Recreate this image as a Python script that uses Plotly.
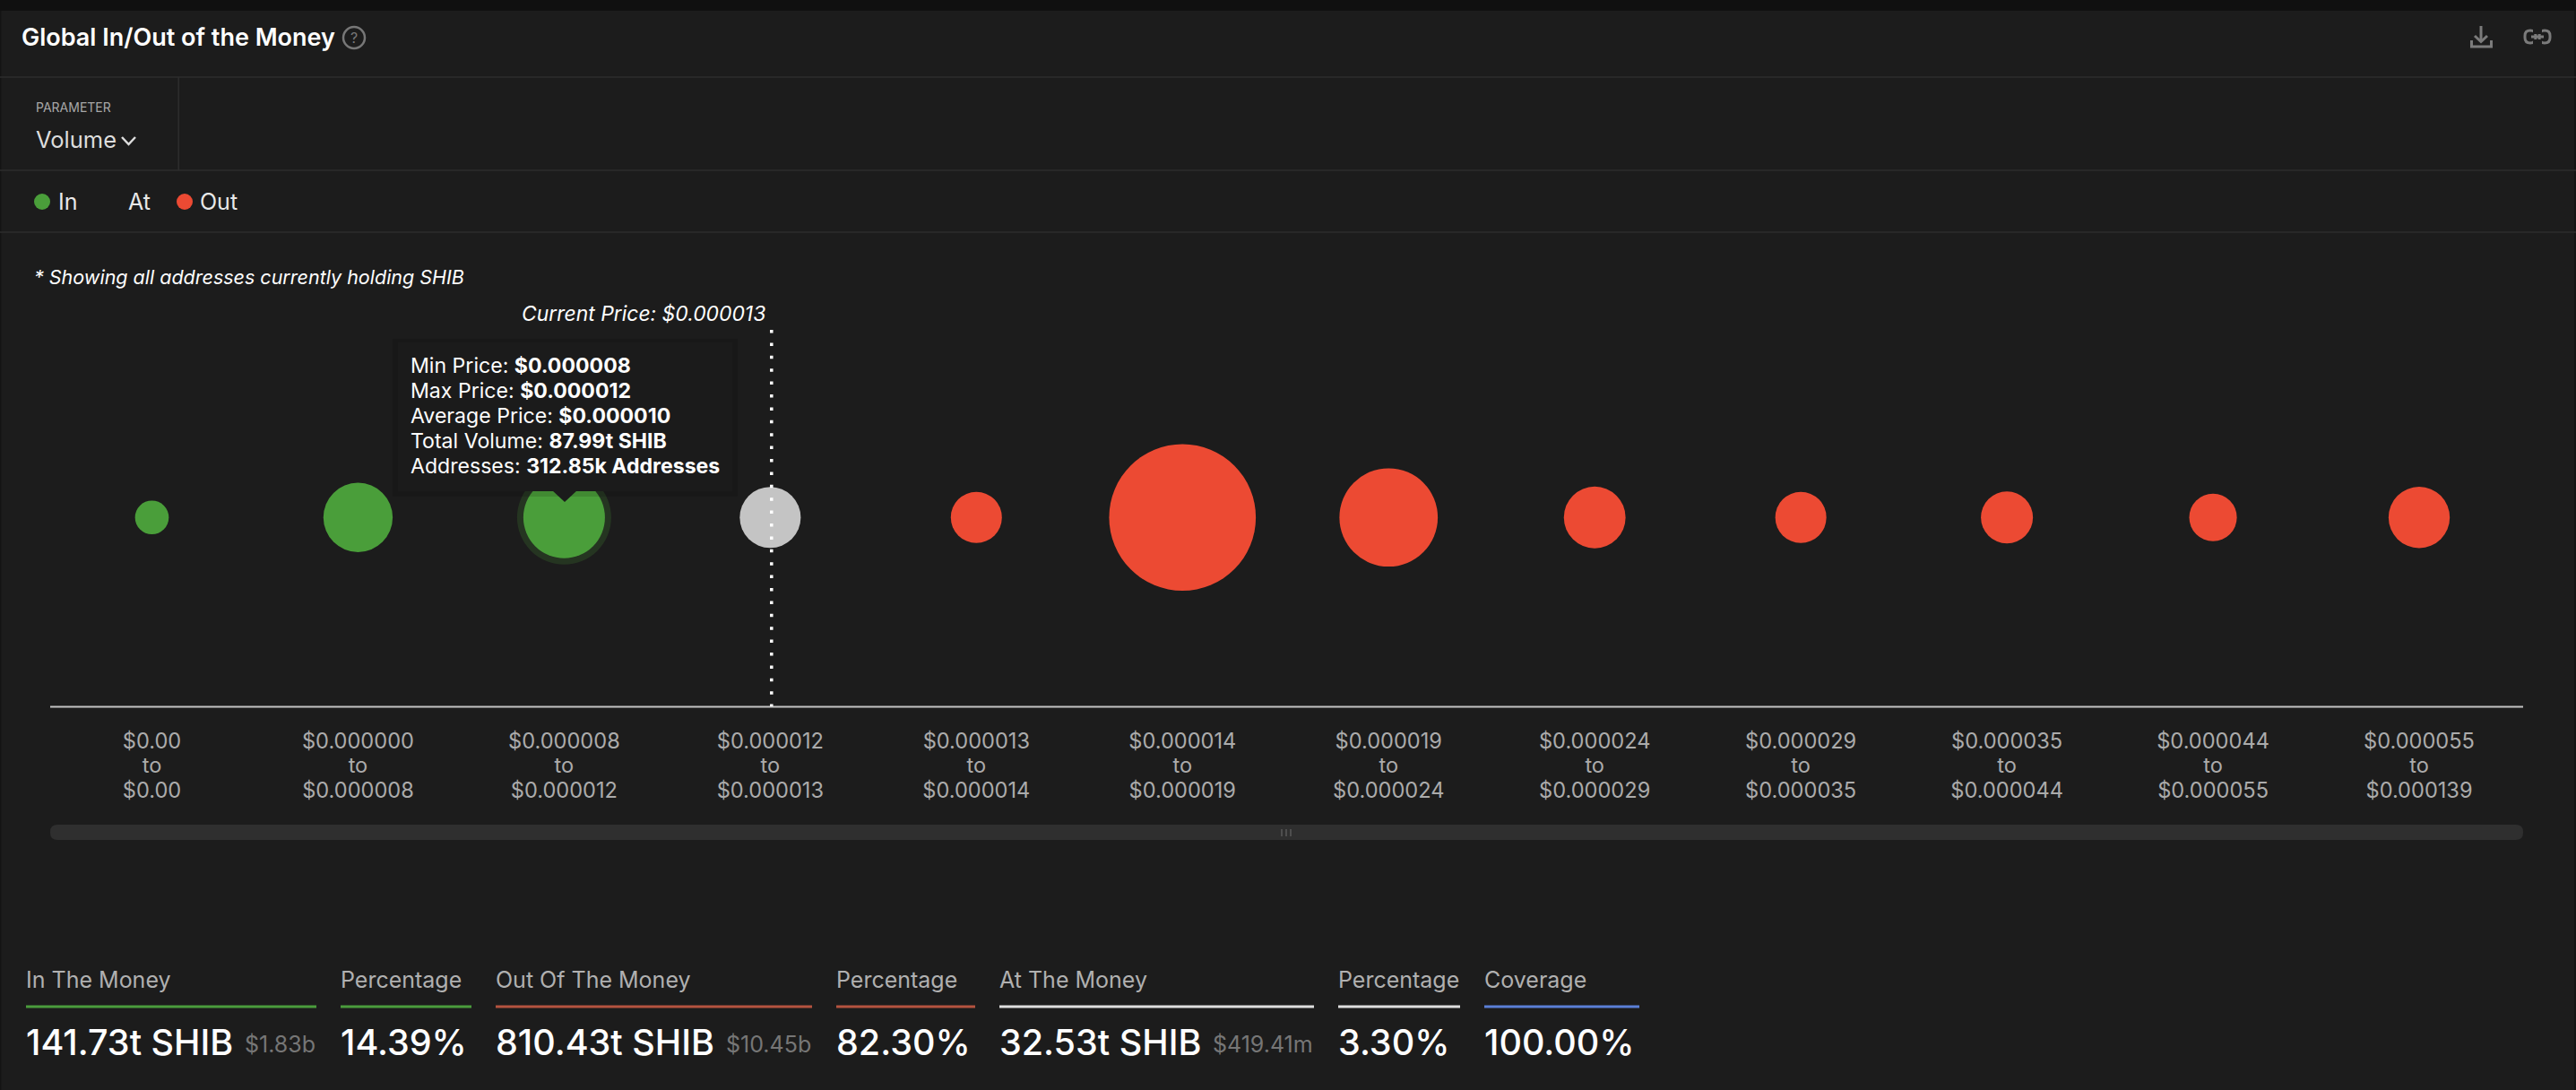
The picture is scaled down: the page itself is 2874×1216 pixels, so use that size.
import math
import plotly.graph_objects as go

W, H = 2874, 1216
FONT = "Inter"

price_from = ["$0.00", "$0.000000", "$0.000008", "$0.000012", "$0.000013", "$0.000014",
              "$0.000019", "$0.000024", "$0.000029", "$0.000035", "$0.000044", "$0.000055"]
price_to = ["$0.00", "$0.000008", "$0.000012", "$0.000013", "$0.000014", "$0.000019",
            "$0.000024", "$0.000029", "$0.000035", "$0.000044", "$0.000055", "$0.000139"]
# Volume per price band, trillions of SHIB (estimated from the bubble areas,
# except the tooltip band and the At-the-Money total)
in_idx = [0, 1, 2]
in_vol = [0.7, 51.6, 87.99]
at_idx = [3]
at_vol = [32.53]
out_idx = [4, 5, 6, 7, 8, 9, 10, 11]
out_vol = [15.5, 441, 153, 34, 15.5, 16.8, 11, 33]

stats = [
    ("In The Money", "141.73t SHIB", "$1.83b", 29, 353, "#4a9c3c"),
    ("Percentage", "14.39%", "", 380, 526, "#4a9c3c"),
    ("Out Of The Money", "810.43t SHIB", "$10.45b", 553, 906, "#b4533f"),
    ("Percentage", "82.30%", "", 933, 1088, "#b4533f"),
    ("At The Money", "32.53t SHIB", "$419.41m", 1115, 1466, "#dedede"),
    ("Percentage", "3.30%", "", 1493, 1629, "#dedede"),
    ("Coverage", "100.00%", "", 1656, 1829, "#5a7fd6"),
]

tooltip = ("Min Price: <b>$0.000008</b><br>Max Price: <b>$0.000012</b><br>"
           "Average Price: <b>$0.000010</b><br>Total Volume: <b>87.99t SHIB</b><br>"
           "Addresses: <b>312.85k Addresses</b>")

GREEN, RED, GREY = "#4a9e3a", "#ec4a33", "#c4c4c4"
BG, RULE = "#1c1c1c", "#2d2d2d"


def px(x):
    return x / W


def py(y):
    return 1 - y / H


def diam(v):
    return 32.4 + 6.25 * math.sqrt(v)


def path(*pts, close=False):
    s = "M" + " L".join(f"{px(x):.5f},{py(y):.5f}" for x, y in pts)
    return s + (" Z" if close else "")


def rrect(x0, y0, x1, y1, r):
    c = lambda x, y: f"{px(x):.5f},{py(y):.5f}"
    return (f"M{c(x0+r,y0)} L{c(x1-r,y0)} Q{c(x1,y0)} {c(x1,y0+r)} L{c(x1,y1-r)} Q{c(x1,y1)} {c(x1-r,y1)} "
            f"L{c(x0+r,y1)} Q{c(x0,y1)} {c(x0,y1-r)} L{c(x0,y0+r)} Q{c(x0,y0)} {c(x0+r,y0)} Z")


shapes, annos = [], []


def rect(x0, y0, x1, y1, color, layer="below"):
    shapes.append(dict(type="rect", xref="paper", yref="paper", x0=px(x0), x1=px(x1), y0=py(y0), y1=py(y1),
                       fillcolor=color, line_width=0, layer=layer))


def stroke(*pts, color="#7b7b7b", width=3, layer="above"):
    shapes.append(dict(type="path", xref="paper", yref="paper", path=path(*pts),
                       line=dict(color=color, width=width), layer=layer))


def dot(cx, cy, r, color, line=None, layer="above"):
    shapes.append(dict(type="circle", xref="paper", yref="paper", x0=px(cx - r), x1=px(cx + r),
                       y0=py(cy - r), y1=py(cy + r), fillcolor=color,
                       line=dict(color=line or color, width=2 if line else 0), layer=layer))


def text(x, y, s, size, color="#ffffff", anchor="left", italic=False, weight=None):
    f = dict(family=FONT, size=size, color=color)
    if italic:
        f["style"] = "italic"
    if weight:
        f["weight"] = weight
    annos.append(dict(xref="paper", yref="paper", x=px(x), y=py(y), text=s, showarrow=False, xanchor=anchor,
                      yanchor="middle", align="left", borderpad=0, font=f))


# page chrome
rect(0, 0, W, 12, "#101010")
rect(0, 12, 1.5, H, "#141414")
rect(W - 2, 12, W, H, "#141414")
for yy in (86, 190, 259):
    rect(0, yy - 0.75, W, yy + 0.75, RULE)
rect(198.5, 86, 200, 190, RULE)

text(23, 42, "Global In/Out of the Money", 27, weight=600)
shapes.append(dict(type="circle", xref="paper", yref="paper", x0=px(383), x1=px(407), y0=py(30), y1=py(54),
                   line=dict(color="#777777", width=2.5), layer="above"))
text(395, 42, "?", 16, "#777777", anchor="center")

# icons: download and link
stroke((2768, 29), (2768, 46))
stroke((2761, 40), (2768, 46.5), (2775, 40))
stroke((2757.5, 45), (2757.5, 52), (2779.5, 52), (2779.5, 45))
shapes.append(dict(type="path", xref="paper", yref="paper", layer="above", line=dict(color="#7b7b7b", width=3),
                   path=rrect(2817, 34, 2829, 48, 6).replace(" Z", "")))
shapes.append(dict(type="path", xref="paper", yref="paper", layer="above", line=dict(color="#7b7b7b", width=3),
                   path=rrect(2833, 34, 2845, 48, 6).replace(" Z", "")))
stroke((2824, 41), (2838, 41))
rect(2826, 31, 2836, 38, BG, layer="above")
rect(2826, 44, 2836, 51, BG, layer="above")

# parameter picker
text(39, 119, "PARAMETER", 14, "#a8a8a8")
text(39, 156, "Volume", 25.5, "#dddddd")
stroke((136, 153), (143.5, 161), (151, 153), color="#dddddd", width=2.5)

# legend row
dot(47, 225, 9, GREEN)
text(64, 225, "In", 25, "#e8e8e8")
text(142, 225, "At", 25, "#e8e8e8")
dot(206, 225, 9, RED)
text(222, 225, "Out", 25, "#e8e8e8")

text(37, 309, "* Showing all addresses currently holding SHIB", 21.5, italic=True)
text(855, 350, "Current Price: $0.000013", 22.9, anchor="right", italic=True)

# scrollbar
shapes.append(dict(type="path", xref="paper", yref="paper", path=rrect(56, 920, 2815, 937, 8),
                   fillcolor="#2f2f2f", line_width=0, layer="below"))
for gx in (1430, 1435, 1440):
    rect(gx - 0.75, 925, gx + 0.75, 933, "#5a5a5a")

# stats row
for label, value, sub, x0, x1, col in stats:
    text(x0 - 1, 1093, label, 25, "#b0b0b0")
    rect(x0, 1121.5, x1, 1124.5, col)
    text(x0 - 1, 1163, value, 39.5, "#ffffff", weight=500)
    if sub:
        text(x1, 1165, sub, 25, "#767676", anchor="right")

# axis baseline
rect(56, 787.5, 2815, 789.5, "#c4c4c4", layer="above")

# current price marker and tooltip
shapes.append(dict(type="line", xref="paper", yref="paper", x0=px(860.8), x1=px(860.8), y0=py(368), y1=py(788),
                   line=dict(color="#ffffff", width=3.5, dash="3.5px,10.9px"), layer="above"))
rect(438, 378, 823, 554, "rgba(0,0,0,0.12)", layer="above")
rect(444, 382, 817, 548, "#1b1b1b", layer="above")
shapes.append(dict(type="path", xref="paper", yref="paper", path=path((616, 547), (644, 547), (630, 560), close=True),
                   fillcolor="#1b1b1b", line_width=0, layer="above"))
text(456.5, 464, f'<span style="font-size:23.1px">{tooltip}</span>', 21.5)

fig = go.Figure()
fig.add_trace(go.Scatter(x=[in_idx[2]], y=[0.5], mode="markers", showlegend=False, hoverinfo="skip",
                         marker=dict(size=[diam(in_vol[2]) + 14], color="rgba(74,158,58,0.28)", line_width=0)))
for name, idx, vol, col in (("In", in_idx, in_vol, GREEN), ("At", at_idx, at_vol, GREY), ("Out", out_idx, out_vol, RED)):
    fig.add_trace(go.Scatter(x=idx, y=[0.5] * len(idx), mode="markers", name=name, showlegend=False,
                             marker=dict(size=[diam(v) for v in vol], color=col, opacity=1, line_width=0)))

ticks = [f'<span style="font-size:23.6px">{a}<br>to<br>{b}</span>' for a, b in zip(price_from, price_to)]
fig.update_layout(
    width=W, height=H, margin=dict(l=0, r=0, t=0, b=0), autosize=False,
    paper_bgcolor=BG, plot_bgcolor=BG, showlegend=False, shapes=shapes, annotations=annos,
    font=dict(family=FONT),
    xaxis=dict(domain=[px(54.5), px(2814)], range=[-0.5, 11.5], tickmode="array", tickvals=list(range(12)),
               ticktext=ticks, showgrid=False, zeroline=False, showline=False,
               ticks="", automargin=False, tickangle=0, ticklabelstandoff=24,
               tickfont=dict(family=FONT, size=21.15, color="#ababab")),
    yaxis=dict(domain=[py(788.5), py(366)], range=[0, 1], visible=False, fixedrange=True),
)
fig.write_html("out.html", config=dict(displayModeBar=False),
               post_script="document.body.style.margin='0';document.documentElement.style.overflow='hidden';")
